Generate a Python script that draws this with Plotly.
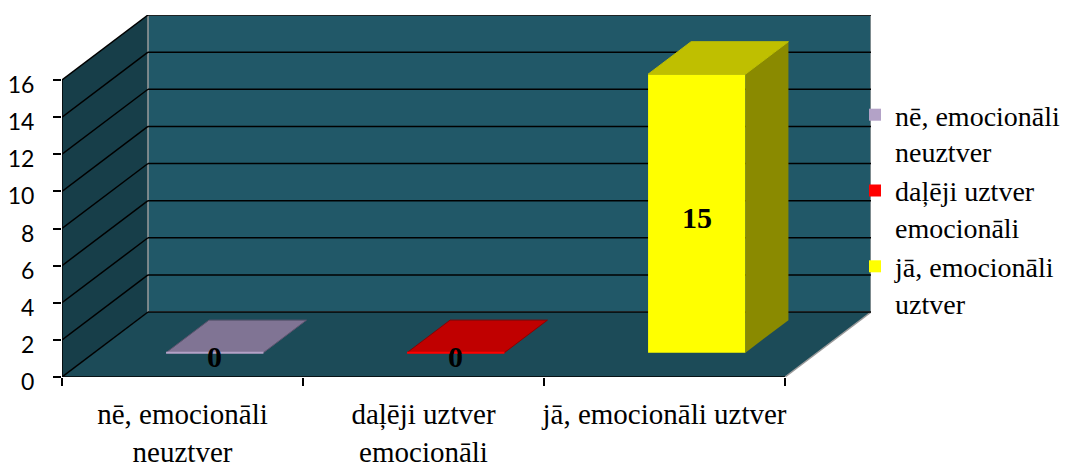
import plotly.graph_objects as go

# ---- data ----
categories = ["nē, emocionāli neuztver", "daļēji uztver emocionāli", "jā, emocionāli uztver"]
values = [0, 0, 15]
tick_labels = ["nē, emocionāli<br>neuztver", "daļēji uztver<br>emocionāli", "jā, emocionāli uztver"]
legend_labels = ["nē, emocionāli<br>neuztver", "daļēji uztver<br>emocionāli", "jā, emocionāli<br>uztver"]
y_ticks = [0, 2, 4, 6, 8, 10, 12, 14, 16]

# ---- styles ----
front_colors = ["#b3a2c7", "#ff0000", "#ffff00"]
top_colors = ["#807494", "#c00000", "#bfbf00"]
side_colors = ["#5f5570", "#8c0000", "#8a8a00"]
BACK_WALL = "#215868"
SIDE_WALL = "#173e49"
FLOOR = "#1c4b58"
EDGE_GRAY = "#9a9a9a"

# ---- pseudo-3D geometry (axis units) ----
DX = 86 / 241              # depth offset along x
DY = 65 / (297 / 16)       # depth offset along y
Y_MAX = y_ticks[-1]
X0 = -0.5
X1 = len(categories) - 0.5
W = 0.404                  # bar width
D0, D1 = 0.375, 0.875      # bar depth start / end (fraction of depth)

shapes = []
# side wall
shapes.append(dict(type="path", xref="x", yref="y", layer="below",
                   path=f"M {X0},0 L {X0},{Y_MAX} L {X0+DX},{Y_MAX+DY} L {X0+DX},{DY} Z",
                   fillcolor=SIDE_WALL, line=dict(width=0)))
# back wall
shapes.append(dict(type="rect", xref="x", yref="y", layer="below",
                   x0=X0 + DX, x1=X1 + DX, y0=DY, y1=Y_MAX + DY,
                   fillcolor=BACK_WALL, line=dict(color=EDGE_GRAY, width=1.5)))
# floor
shapes.append(dict(type="path", xref="x", yref="y", layer="below",
                   path=f"M {X0},0 L {X1},0 L {X1+DX},{DY} L {X0+DX},{DY} Z",
                   fillcolor=FLOOR, line=dict(width=0)))
# floor right edge
shapes.append(dict(type="line", xref="x", yref="y", layer="below",
                   x0=X1, y0=0, x1=X1 + DX, y1=DY, line=dict(color=EDGE_GRAY, width=1.5)))
# gridlines on back and side walls
for v in y_ticks:
    shapes.append(dict(type="line", xref="x", yref="y", layer="below",
                       x0=X0 + DX, x1=X1 + DX, y0=v + DY, y1=v + DY,
                       line=dict(color="black", width=1.5)))
    shapes.append(dict(type="line", xref="x", yref="y", layer="below",
                       x0=X0, x1=X0 + DX, y0=v, y1=v + DY,
                       line=dict(color="black", width=1.5)))
# front floor edge and side wall front edge
shapes.append(dict(type="line", xref="x", yref="y", layer="below",
                   x0=X0, x1=X1, y0=0, y1=0, line=dict(color="black", width=1.5)))
shapes.append(dict(type="line", xref="x", yref="y", layer="below",
                   x0=X0, x1=X0, y0=0, y1=Y_MAX, line=dict(color="black", width=1.5)))

fig = go.Figure()
annotations = []
for i, (cat, v) in enumerate(zip(categories, values)):
    xl, xr = i - W / 2, i + W / 2
    # front face
    fig.add_trace(go.Bar(x=[i], y=[v], base=[D0 * DY], width=[W], offset=[-W / 2 + D0 * DX],
                         marker=dict(color=front_colors[i], line=dict(width=0)),
                         name=legend_labels[i], hovertext=[cat], hoverinfo="text+y"))
    # side face
    if v > 0:
        fig.add_trace(go.Scatter(
            x=[xr + D0 * DX, xr + D0 * DX, xr + D1 * DX, xr + D1 * DX, xr + D0 * DX],
            y=[D0 * DY, v + D0 * DY, v + D1 * DY, D1 * DY, D0 * DY],
            fill="toself", fillcolor=side_colors[i], mode="lines", line=dict(width=0),
            showlegend=False, hoverinfo="skip"))
    # top face
    fig.add_trace(go.Scatter(
        x=[xl + D0 * DX, xr + D0 * DX, xr + D1 * DX, xl + D1 * DX, xl + D0 * DX],
        y=[v + D0 * DY, v + D0 * DY, v + D1 * DY, v + D1 * DY, v + D0 * DY],
        fill="toself", fillcolor=top_colors[i], mode="lines",
        line=dict(width=1, color=side_colors[i] if v == 0 else top_colors[i]),
        showlegend=False, hoverinfo="skip"))
    # front edge of a flat (zero) bar
    if v == 0:
        fig.add_trace(go.Scatter(
            x=[xl + D0 * DX, xr + D0 * DX], y=[D0 * DY, D0 * DY], mode="lines",
            line=dict(width=2, color=front_colors[i]), showlegend=False, hoverinfo="skip"))
    annotations.append(dict(x=i + D0 * DX, y=D0 * DY + v / 2, xref="x", yref="y",
                            text=f"<b>{v}</b>", showarrow=False, yshift=-4,
                            font=dict(family="Liberation Serif", size=30, color="black")))

fig.update_layout(
    width=1077, height=462,
    margin=dict(l=54, r=214, t=7, b=93, autoexpand=False),
    paper_bgcolor="white", plot_bgcolor="white",
    barmode="overlay",
    shapes=shapes, annotations=annotations,
    showlegend=True,
    legend=dict(x=(847 - 54) / 809, xanchor="left", y=(369 - 82) / 362, yanchor="top",
                valign="top", bgcolor="rgba(0,0,0,0)", tracegroupgap=0,
                font=dict(family="Liberation Serif", size=28, color="black")),
    xaxis=dict(range=[X0, X1 + DX], tickmode="array", tickvals=list(range(len(categories))),
               ticktext=tick_labels, ticks="", showgrid=False, zeroline=False, showline=False,
               ticklabelstandoff=17, automargin=False,
               tickfont=dict(family="Liberation Serif", size=29, color="black"),
               minor=dict(tickmode="array", tickvals=[X0 + k for k in range(len(categories) + 1)],
                          ticks="outside", ticklen=8, tickwidth=1.5, tickcolor="black", showgrid=False),
               fixedrange=True),
    yaxis=dict(range=[0, Y_MAX + DY], tickmode="array", tickvals=y_ticks,
               ticks="outside", ticklen=8, tickwidth=1.5, tickcolor="black",
               showgrid=False, zeroline=False, showline=False, automargin=False,
               ticklabelstandoff=14, ticklabelshift=5,
               tickfont=dict(family="Lato", size=23, color="black"), fixedrange=True),
)

fig.write_html("out.html")
